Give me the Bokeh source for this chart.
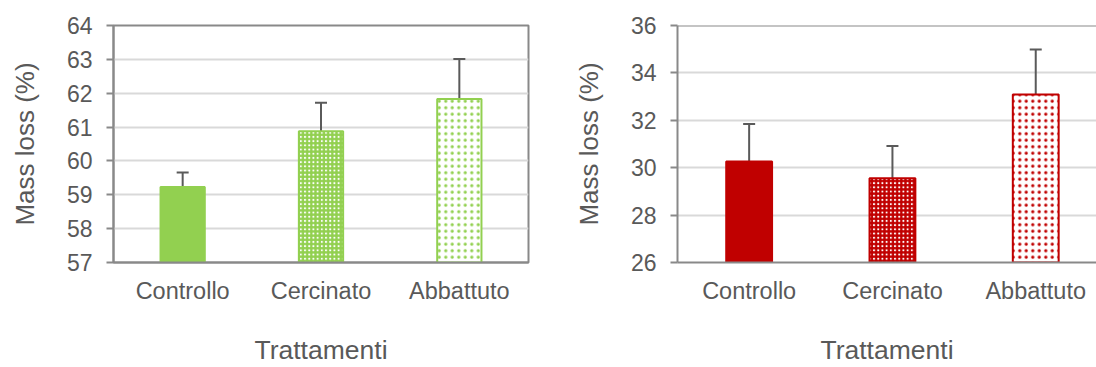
from bokeh.plotting import figure
from bokeh.layouts import row
from bokeh.models import Range1d, FixedTicker, ColumnDataSource, Whisker, TeeHead, Span
from bokeh.embed import file_html
from bokeh.resources import INLINE

# ---- data ----
categories = ["Controllo", "Cercinato", "Abbattuto"]
left_means = [59.23, 60.88, 61.83]
left_errors = [0.43, 0.84, 1.18]
right_means = [30.26, 29.55, 33.09]
right_errors = [1.58, 1.37, 1.90]
left_ticks = [57, 58, 59, 60, 61, 62, 63, 64]
right_ticks = [26, 28, 30, 32, 34, 36]
y_title = "Mass loss (%)"
x_title = "Trattamenti"

FONT = "Liberation Sans"
TXT = "#595959"
AXIS = "#898989"
GRID = "#D9D9D9"
GREEN = "#92D050"
RED = "#C00000"


def make(means, errors, ticks, color, width, min_left, min_right, x_end, outline):
    ymin, ymax = ticks[0], ticks[-1]
    xs = list(range(len(categories)))
    p = figure(width=width, height=367, output_backend="svg", toolbar_location=None,
               x_range=Range1d(-0.5, x_end), y_range=Range1d(ymin, ymax),
               min_border_left=min_left, min_border_right=min_right,
               min_border_top=25, min_border_bottom=105)
    p.outline_line_color = AXIS if outline else None
    p.outline_line_width = 2
    p.background_fill_color = "white"
    p.border_fill_color = "white"

    styles = [
        dict(fill_color=color, hatch_pattern=None, hatch_color=None, hatch_scale=4, line_color=color),
        dict(fill_color=color, hatch_pattern="dot", hatch_color="white", hatch_scale=4.2, line_color=color),
        dict(fill_color="white", hatch_pattern="dot", hatch_color=color, hatch_scale=6.5, line_color=color),
    ]
    for i, st in enumerate(styles):
        kw = dict(x=[xs[i]], top=[means[i]], bottom=ymin, width=0.32,
                  fill_color=st["fill_color"], line_color=st["line_color"], line_width=2)
        if st["hatch_pattern"]:
            kw.update(hatch_pattern=st["hatch_pattern"], hatch_color=st["hatch_color"],
                      hatch_scale=st["hatch_scale"], hatch_weight=1)
        p.vbar(**kw)

    src = ColumnDataSource(dict(x=xs, top=means,
                                upper=[m + e for m, e in zip(means, errors)]))
    w = Whisker(source=src, base="x", upper="upper", lower="top", dimension="height",
                line_color="#5A5A5A", line_width=2,
                upper_head=TeeHead(size=12, line_color="#5A5A5A", line_width=2),
                lower_head=None)
    p.add_layout(w)

    if not outline:
        p.add_layout(Span(location=ymax, dimension="width", line_color=AXIS, line_width=2))

    # axes
    p.xaxis.ticker = FixedTicker(ticks=xs)
    p.xaxis.major_label_overrides = {i: c for i, c in enumerate(categories)}
    p.xaxis.major_tick_out = 0
    p.xaxis.major_tick_in = 0
    p.xaxis.major_label_standoff = 15
    p.xaxis.major_label_text_font_size = "23.5px"
    p.xaxis.axis_line_color = AXIS
    p.xaxis.axis_line_width = 2
    p.xaxis.axis_label = x_title
    p.xaxis.axis_label_text_font_size = "26.5px"
    p.xaxis.axis_label_text_font_style = "normal"
    p.xaxis.axis_label_standoff = 28

    p.yaxis.ticker = FixedTicker(ticks=ticks)
    p.yaxis.major_tick_out = 7
    p.yaxis.major_tick_in = 0
    p.yaxis.major_tick_line_color = AXIS
    p.yaxis.major_tick_line_width = 2
    p.yaxis.major_label_standoff = 14
    p.yaxis.major_label_text_font_size = "23px"
    p.yaxis.axis_line_color = AXIS
    p.yaxis.axis_line_width = 2
    p.yaxis.axis_label = y_title
    p.yaxis.axis_label_text_font_size = "26px"
    p.yaxis.axis_label_text_font_style = "normal"
    p.yaxis.axis_label_standoff = 24

    for ax in (p.xaxis, p.yaxis):
        ax.major_label_text_font = FONT
        ax.major_label_text_color = TXT
        ax.axis_label_text_font = FONT
        ax.axis_label_text_color = TXT
        ax.minor_tick_line_color = None

    p.xgrid.grid_line_color = None
    p.ygrid.ticker = FixedTicker(ticks=ticks)
    p.ygrid.grid_line_color = GRID
    p.ygrid.grid_line_width = 2
    return p


p1 = make(left_means, left_errors, left_ticks, GREEN, 548, 113, 20, 2.5, True)
p2 = make(right_means, right_errors, right_ticks, RED, 548, 129, 0, 2.424, False)

layout = row(p1, p2)
open("out.html", "w").write(file_html(layout, INLINE))
